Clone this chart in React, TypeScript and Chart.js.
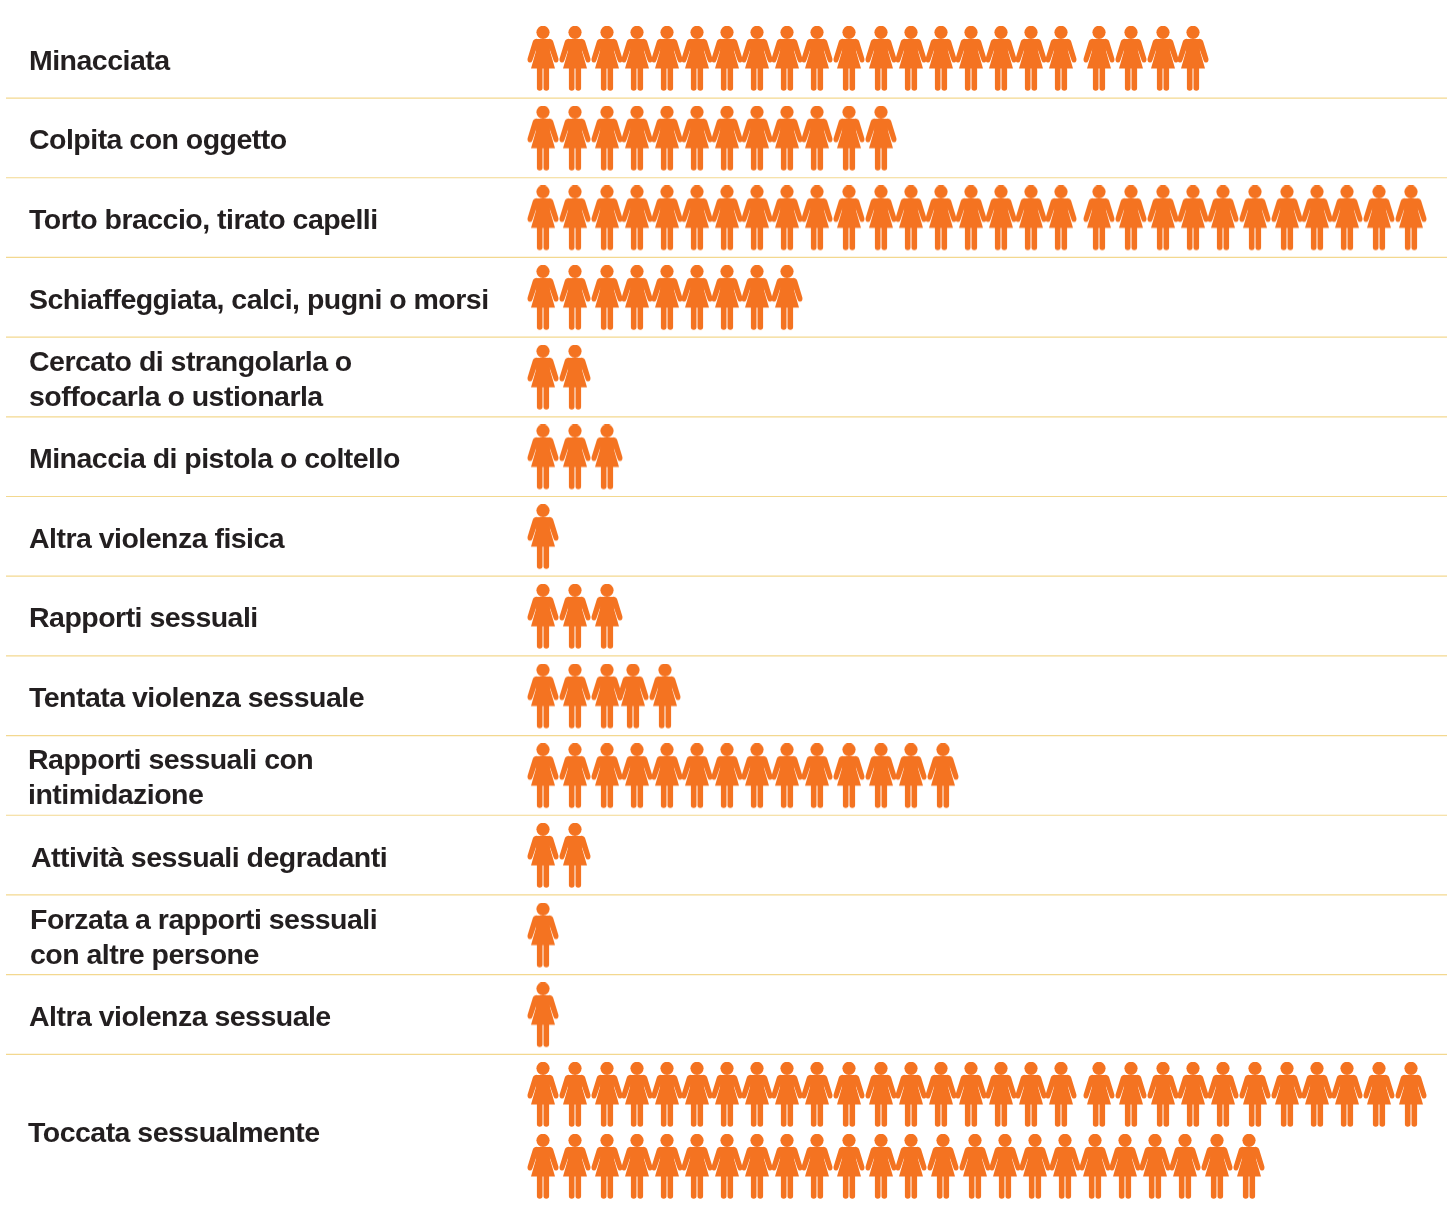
import { useEffect, useRef } from "react";
import { Chart, registerables } from "chart.js";

Chart.register(...registerables);

// Forms of violence, one row each; an inner array is a label broken over two lines.
const categories: string[][] = [
  ["Minacciata"],
  ["Colpita con oggetto"],
  ["Torto braccio, tirato capelli"],
  ["Schiaffeggiata, calci, pugni o morsi"],
  ["Cercato di strangolarla o", "soffocarla o ustionarla"],
  ["Minaccia di pistola o coltello"],
  ["Altra violenza fisica"],
  ["Rapporti sessuali"],
  ["Tentata violenza sessuale"],
  ["Rapporti sessuali con", "intimidazione"],
  ["Attività sessuali degradanti"],
  ["Forzata a rapporti sessuali", "con altre persone"],
  ["Altra violenza sessuale"],
  ["Toccata sessualmente"],
];

// Number of figures drawn in each row.
const figureCounts = [22, 12, 29, 9, 2, 3, 1, 3, 5, 14, 2, 1, 1, 53];

// Figures held on one line before a row wraps.
const lineCapacity = 29;

// Distance between neighbouring figures, in x-scale units.
const columnSteps = [32, 32, 30, 30, 30, 30, 30, 30, 30, 32, 32, 30, 30, 30, 30, 30, 30, 38, 32, 32, 30, 30, 32, 32, 30, 30, 32, 32];
const tentataSteps = [32, 32, 26, 32];
const intimidazioneSteps = [32, 32, 30, 30, 30, 30, 30, 30, 30, 32, 32, 30, 32];
const wrappedLineSteps = [32, 32, 30, 30, 30, 30, 30, 30, 30, 32, 32, 30, 32, 32, 30, 30, 30, 30, 30, 30, 30, 32, 32];

const stepsForRow: Record<number, number[]> = { 8: tentataSteps, 9: intimidazioneSteps };

// Layout of the label column.
const labelIndents = [29, 29, 29, 29, 29, 29, 29, 29, 29, 28, 31, 30, 29, 28];
const labelRowOffsets = [0, 0, 0, 0, 0.005, 0, 0, 0, 0, 0, 0, 0.005, 0.005, 0.46];

const ROW_PITCH = 79.69;
const FIRST_ROW_Y = 59;
const FIRST_FIGURE_X = 543;
const WRAP_OFFSET = 72 / ROW_PITCH;
const SEPARATOR_OFFSET = 0.49;
const WIDTH = 1447;
const HEIGHT = 1213;
const ORANGE = "#f47321";
const INK = "#231f20";
const RULE = "#f3d88f";

// Woman pictogram, painted once and reused as the point style of every figure.
function makeFigure(): HTMLCanvasElement {
  const c = document.createElement("canvas");
  c.width = 32;
  c.height = 66;
  const g = c.getContext("2d")!;
  g.fillStyle = ORANGE;

  // Head.
  g.beginPath();
  g.arc(16, 6.3, 6.6, 0, Math.PI * 2);
  g.fill();

  // Dress, flaring from the slits under the arms down to the hem.
  g.beginPath();
  g.moveTo(9.5, 13);
  g.lineTo(22.5, 13);
  g.lineTo(23, 25);
  g.lineTo(28, 42.6);
  g.lineTo(4, 42.6);
  g.lineTo(9, 25);
  g.closePath();
  g.fill();

  // Arms, drawn on the left and mirrored across the figure's centre line.
  for (const flip of [false, true]) {
    const px = (x: number) => (flip ? 32 - x : x);
    g.beginPath();
    g.moveTo(px(10), 12.8);
    g.quadraticCurveTo(px(6.8), 12.8, px(5.8), 15.5);
    g.lineTo(px(0.6), 32.4);
    g.quadraticCurveTo(px(0), 36, px(2.8), 36.6);
    g.quadraticCurveTo(px(4.6), 36.8, px(5.4), 34.4);
    g.lineTo(px(8.7), 25);
    g.lineTo(px(10), 22);
    g.closePath();
    g.fill();
  }

  // Legs.
  for (const x of [9.9, 16.5]) {
    g.beginPath();
    g.roundRect(x, 41, 5.6, 23.8, [0, 0, 2.8, 2.8]);
    g.fill();
  }
  return c;
}

// One point per figure: x is the running sum of column steps, y the row index.
function buildPoints() {
  const points: { x: number; y: number }[] = [];
  figureCounts.forEach((count, row) => {
    const steps = stepsForRow[row] ?? columnSteps;
    let x = 0;
    for (let i = 0; i < Math.min(count, lineCapacity); i++) {
      points.push({ x, y: row });
      x += steps[i] ?? 0;
    }
    x = 0;
    for (let i = 0; i < count - lineCapacity; i++) {
      points.push({ x, y: row + WRAP_OFFSET });
      x += wrappedLineSteps[i] ?? 0;
    }
  });
  return points;
}

// Draws the row labels and the pale rules between rows, placed through the y scale.
const rowFurniture = {
  id: "rowFurniture",
  beforeDatasetsDraw(chart: Chart) {
    const { ctx } = chart;
    const y = chart.scales.y;
    ctx.save();
    ctx.strokeStyle = RULE;
    ctx.lineWidth = 1.2;
    for (let r = 0; r < categories.length - 1; r++) {
      const py = y.getPixelForValue(r + SEPARATOR_OFFSET);
      ctx.beginPath();
      ctx.moveTo(6, py);
      ctx.lineTo(WIDTH, py);
      ctx.stroke();
    }
    ctx.fillStyle = INK;
    ctx.font = "bold 28.5px 'Liberation Sans'";
    (ctx as any).letterSpacing = "-0.52px";
    ctx.textAlign = "left";
    ctx.textBaseline = "alphabetic";
    categories.forEach((lines, r) => {
      const centre = y.getPixelForValue(r + labelRowOffsets[r]);
      lines.forEach((line, i) => {
        const shift = (i - (lines.length - 1) / 2) * 35;
        ctx.fillText(line, labelIndents[r], centre + shift + 10.6);
      });
    });
    ctx.restore();
  },
};

export default function App() {
  const ref = useRef<HTMLCanvasElement>(null);

  useEffect(() => {
    if (!ref.current) return;
    const chart = new Chart(ref.current, {
      type: "scatter",
      data: {
        datasets: [
          {
            data: buildPoints(),
            pointStyle: makeFigure(),
            pointRadius: 16,
            pointHoverRadius: 16,
            showLine: false,
            clip: false,
          },
        ],
      },
      options: {
        animation: false,
        responsive: false,
        events: [],
        layout: { padding: 0, autoPadding: false },
        plugins: { legend: { display: false }, tooltip: { enabled: false } },
        scales: {
          x: { type: "linear", display: false, min: -FIRST_FIGURE_X, max: WIDTH - FIRST_FIGURE_X },
          y: {
            type: "linear",
            display: false,
            reverse: true,
            min: -FIRST_ROW_Y / ROW_PITCH,
            max: (HEIGHT - FIRST_ROW_Y) / ROW_PITCH,
          },
        },
      },
      plugins: [rowFurniture],
    } as any);
    return () => chart.destroy();
  }, []);

  return (
    <div style={{ position: "absolute", left: 0, top: 0, width: WIDTH, height: HEIGHT, background: "#fff" }}>
      <canvas ref={ref} width={WIDTH} height={HEIGHT} style={{ display: "block" }} />
    </div>
  );
}
